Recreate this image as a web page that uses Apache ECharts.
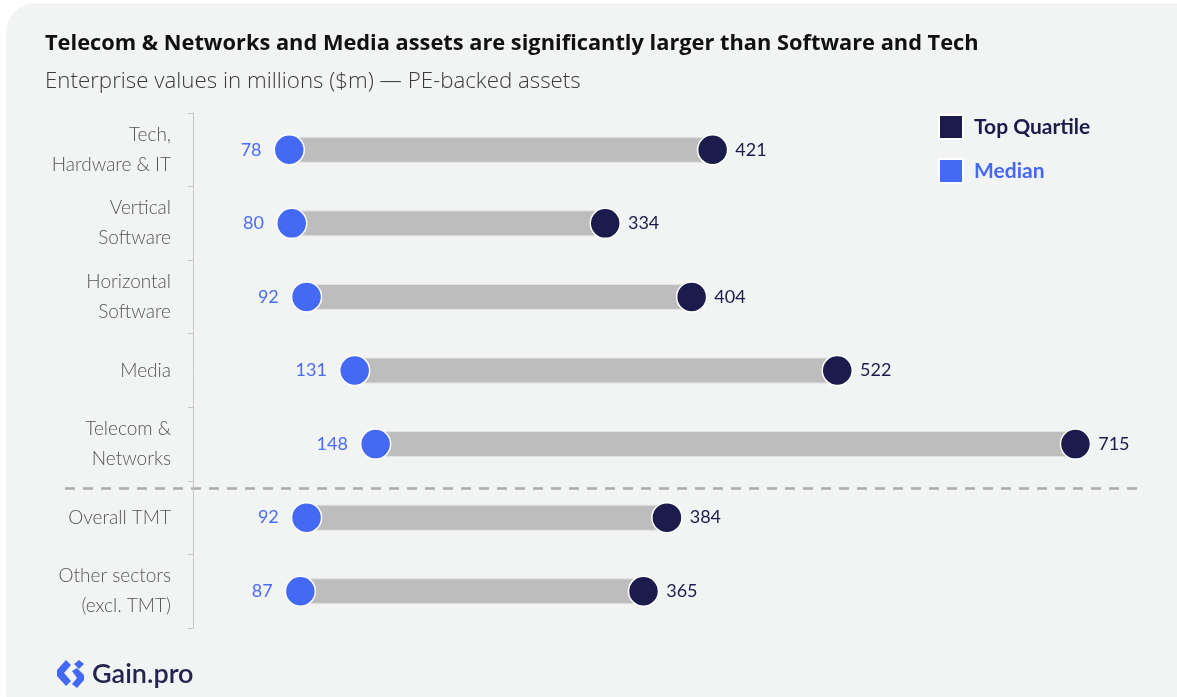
<!DOCTYPE html>
<html>
<head>
<meta charset="utf-8">
<script src="https://cdn.jsdelivr.net/npm/echarts@6/dist/echarts.min.js"></script>
<style>
  html, body { margin: 0; padding: 0; background: #ffffff; overflow: hidden; }
  #card { position: absolute; left: 6px; top: 3px; width: 1200px; height: 720px;
          background: #f2f3f3; border-radius: 30px; }
  #chart { position: absolute; left: 0; top: 0; width: 1177px; height: 697px; }
</style>
</head>
<body>
<div id="card"></div>
<div id="chart"></div>
<script>
// Sectors, top to bottom
const categories = [
  'Tech,\nHardware & IT',
  'Vertical\nSoftware',
  'Horizontal\nSoftware',
  'Media',
  'Telecom &\nNetworks',
  'Overall TMT',
  'Other sectors\n(excl. TMT)'
];
// Enterprise values ($m)
const medianValues = [78, 80, 92, 131, 148, 92, 87];
const topQuartileValues = [421, 334, 404, 522, 715, 384, 365];

const NAVY = '#1b1c4b';
const BLUE = '#4369f5';
const FONT = 'Lato, "Noto Sans", sans-serif';
const HEAD_FONT = '"Open Sans", "Noto Sans", sans-serif';

const chart = echarts.init(document.getElementById('chart'), null, { renderer: 'canvas' });

const rangeData = categories.map((c, i) => [i, medianValues[i], topQuartileValues[i]]);

chart.setOption({
  backgroundColor: 'transparent',
  animation: false,
  title: {
    text: 'Telecom & Networks and Media assets are significantly larger than Software and Tech',
    subtext: 'Enterprise values in millions ($m) — PE-backed assets',
    left: 45, top: 33,
    padding: 0,
    itemGap: 16,
    textStyle: { fontFamily: HEAD_FONT, fontSize: 21.8, fontWeight: 'bold', color: '#111111' },
    subtextStyle: { fontFamily: HEAD_FONT, fontSize: 22.3, fontWeight: 300, color: '#3a3a3a' }
  },
  legend: {
    orient: 'vertical',
    left: 938, top: 114,
    padding: 0,
    itemWidth: 24, itemHeight: 24, itemGap: 18,
    icon: 'rect',
    selectedMode: false,
    data: [
      { name: 'Top Quartile', textStyle: { color: NAVY } },
      { name: 'Median', textStyle: { color: BLUE } }
    ],
    textStyle: { fontFamily: FONT, fontSize: 21, fontWeight: 'bold', padding: [0, 0, 0, 6] }
  },
  grid: { left: 193, top: 113, width: 938, bottom: 69, containLabel: false },
  xAxis: {
    type: 'value', min: 0, max: 760, show: false
  },
  yAxis: {
    type: 'category',
    data: categories,
    inverse: true,
    boundaryGap: true,
    axisLine: { show: true, lineStyle: { color: '#c8c8c8', width: 1 } },
    axisTick: { show: true, length: 5, lineStyle: { color: '#c8c8c8' } },
    axisLabel: {
      fontFamily: FONT, fontSize: 19, fontWeight: 300, color: '#555555',
      lineHeight: 30, margin: 22, align: 'right'
    },
    splitLine: { show: false }
  },
  series: [
    {
      name: 'Range',
      type: 'custom',
      data: rangeData,
      encode: { y: 0, x: [1, 2] },
      z: 1,
      renderItem: function (params, api) {
        const y = api.value(0);
        const start = api.coord([api.value(1), y]);
        const end = api.coord([api.value(2), y]);
        const h = 25;
        return {
          type: 'rect',
          shape: { x: start[0], y: start[1] - h / 2, width: end[0] - start[0], height: h },
          style: { fill: '#bdbdbd', stroke: '#e4e4e4', lineWidth: 1 }
        };
      }
    },
    {
      name: 'Median',
      type: 'scatter',
      data: medianValues.map((v, i) => [v, i]),
      symbolSize: 30,
      z: 3,
      itemStyle: { color: BLUE, borderColor: '#ffffff', borderWidth: 1.5, opacity: 1 },
      label: {
        show: true, position: 'left', distance: 12,
        formatter: p => p.value[0],
        fontFamily: FONT, fontSize: 18, color: '#4a6cf7'
      }
    },
    {
      name: 'Top Quartile',
      type: 'scatter',
      data: topQuartileValues.map((v, i) => [v, i]),
      symbolSize: 30,
      z: 3,
      itemStyle: { color: NAVY, borderColor: '#ffffff', borderWidth: 1.5, opacity: 1 },
      label: {
        show: true, position: 'right', distance: 7,
        formatter: p => p.value[0],
        fontFamily: FONT, fontSize: 18, color: NAVY
      }
    }
  ]
});

// Dashed separator between the individual sectors and the aggregates
const yTelecom = chart.convertToPixel({ yAxisIndex: 0 }, categories[4]);
const yOverall = chart.convertToPixel({ yAxisIndex: 0 }, categories[5]);
const sepY = Math.round(yTelecom + (yOverall - yTelecom) * 0.6) + 0.5;

chart.setOption({
  graphic: [
    {
      type: 'line', z: 0,
      shape: { x1: 65, y1: sepY, x2: 1138, y2: sepY },
      style: { stroke: '#ababab', lineWidth: 2.5, lineDash: [10, 8] }
    },
    // Gain.pro mark
    {
      type: 'group', left: 57, top: 660,
      children: [
        { type: 'polygon', shape: { points: [[9, 0], [14, 5], [7, 13], [14, 21], [9, 26], [0, 16], [0, 10]] },
          style: { fill: BLUE } },
        { type: 'polygon', shape: { points: [[17, 4], [22, 0], [27, 4], [22, 9]] },
          style: { fill: BLUE } },
        { type: 'polygon', shape: { points: [[15, 11], [20, 8], [27, 15], [27, 20], [20, 28], [15, 24], [20, 18]] },
          style: { fill: BLUE } }
      ]
    },
    {
      type: 'text', left: 92, top: 661,
      style: { text: 'Gain.pro', font: '600 27px ' + FONT, fill: '#23244f' }
    }
  ]
});
</script>
</body>
</html>
